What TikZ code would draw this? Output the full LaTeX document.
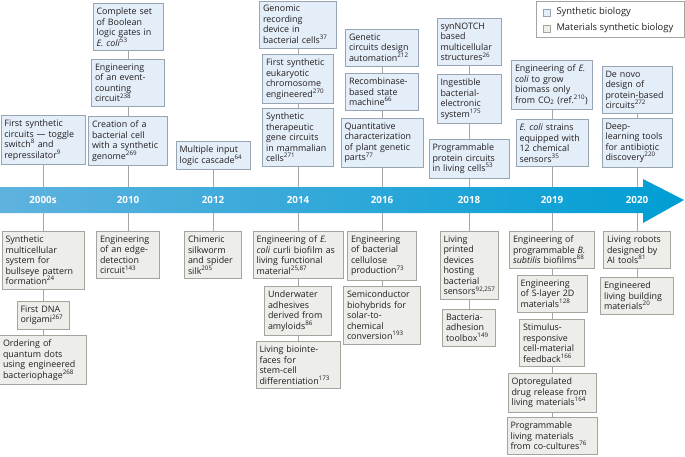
\documentclass[tikz,border=0pt]{standalone}
\usepackage{fontspec}
\setmainfont{Open Sans}
\usepackage{tikz}
\usetikzlibrary{positioning, backgrounds}
\definecolor{synfill}{RGB}{228, 238, 249}
\definecolor{synline}{RGB}{150, 164, 180}
\definecolor{matfill}{RGB}{237, 237, 233}
\definecolor{matline}{RGB}{165, 165, 160}
\definecolor{linkgray}{RGB}{165, 165, 165}
\definecolor{bandleft}{RGB}{95, 178, 222}
\definecolor{bandright}{RGB}{0, 158, 212}
\definecolor{inkgray}{RGB}{35, 31, 32}
\newcommand{\boxfont}{\fontsize{8.9}{10.5}\selectfont}
\newcommand{\refsup}[1]{\textsuperscript{#1}}

\begin{document}
\begin{tikzpicture}[
  x=1pt, y=-1pt,
  synbox/.style={draw=synline, fill=synfill, line width=0.8pt, inner xsep=3.5pt, inner ysep=4.5pt, anchor=north, align=left, font=\boxfont, text=inkgray, text width=#1},
  matbox/.style={draw=matline, fill=matfill, line width=0.8pt, inner xsep=3.5pt, inner ysep=4.5pt, anchor=north, align=left, font=\boxfont, text=inkgray, text width=#1},
  year/.style={text=white, font=\fontsize{9.8}{11}\selectfont\bfseries, inner sep=1pt},
  link/.style={draw=linkgray, line width=1pt},
  legsq/.style={minimum size=7pt, inner sep=0pt, line width=0.6pt}
]
  \useasboundingbox (0,0) rectangle (685,456);

  % Years on the band
  \node[year] (y00) at (43, 200) {2000s};
  \node[year] (y10) at (128, 200) {2010};
  \node[year] (y12) at (213, 200) {2012};
  \node[year] (y14) at (298, 200) {2014};
  \node[year] (y16) at (382, 200) {2016};
  \node[year] (y18) at (469, 200) {2018};
  \node[year] (y19) at (552, 200) {2019};
  \node[year] (y20) at (637, 200) {2020};

  % Synthetic biology (above)
  \node[synbox=77pt] (s00a) at (43, 115) {First synthetic\\circuits — toggle\\switch\refsup{8} and\\repressilator\refsup{9}};
  \node[synbox=63pt] (s10a) at (128, 3) {Complete set\\of Boolean\\logic gates in\\\textit{E. coli}\refsup{53}};
  \node[synbox=66pt] (s10b) at (128, 59) {Engineering\\of an event-\\counting\\circuit\refsup{238}};
  \node[synbox=72pt] (s10c) at (128, 116) {Creation of a\\bacterial cell\\with a synthetic\\genome\refsup{269}};
  \node[synbox=67pt] (s12a) at (213, 141) {Multiple input\\logic cascade\refsup{64}};
  \node[synbox=70pt] (s14a) at (298, 0.5) {Genomic\\recording\\device in\\bacterial cells\refsup{37}};
  \node[synbox=64pt] (s14b) at (298, 54) {First synthetic\\eukaryotic\\chromosome\\engineered\refsup{270}};
  \node[synbox=64pt] (s14c) at (298, 108) {Synthetic\\therapeutic\\gene circuits\\in mammalian\\cells\refsup{271}};
  \node[synbox=66pt] (s16a) at (382, 29) {Genetic\\circuits design\\automation\refsup{212}};
  \node[synbox=66pt] (s16b) at (382, 73) {Recombinase-\\based state\\machine\refsup{66}};
  \node[synbox=75pt] (s16c) at (382, 118) {Quantitative\\characterization\\of plant genetic\\parts\refsup{77}};
  \node[synbox=57pt] (s18a) at (469, 18) {synNOTCH\\based\\multicellular\\structures\refsup{26}};
  \node[synbox=57pt] (s18b) at (469, 74) {Ingestible\\bacterial-\\electronic\\system\refsup{175}};
  \node[synbox=73pt] (s18c) at (469, 139) {Programmable\\protein circuits\\in living cells\refsup{53}};
  \node[synbox=74pt] (s19a) at (552, 60) {Engineering of \textit{E.}\\\textit{coli} to grow\\biomass only\\from CO\textsubscript{2} (ref.\refsup{210})};
  \node[synbox=65pt] (s19b) at (552, 119) {\textit{E. coli} strains\\equipped with\\12 chemical\\sensors\refsup{35}};
  \node[synbox=63pt] (s20a) at (637, 66) {De novo\\design of\\protein-based\\circuits\refsup{272}};
  \node[synbox=63pt] (s20b) at (637, 118) {Deep-\\learning tools\\for antibiotic\\discovery\refsup{220}};

  % Materials synthetic biology (below)
  \node[matbox=75pt] (m00a) at (43, 231) {Synthetic\\multicellular\\system for\\bullseye pattern\\formation\refsup{24}};
  \node[matbox=45pt] (m00b) at (43, 301) {First DNA\\origami\refsup{267}};
  \node[matbox=80pt] (m00c) at (43, 335) {Ordering of\\quantum dots\\using engineered\\bacteriophage\refsup{268}};
  \node[matbox=56pt] (m10a) at (128, 231) {Engineering\\of an edge-\\detection\\circuit\refsup{143}};
  \node[matbox=50pt] (m12a) at (213, 231) {Chimeric\\silkworm\\and spider\\silk\refsup{205}};
  \node[matbox=83pt] (m14a) at (298, 231) {Engineering of \textit{E.}\\\textit{coli} curli biofilm as\\living functional\\material\refsup{25,87}};
  \node[matbox=60pt] (m14b) at (298, 286) {Underwater\\adhesives\\derived from\\amyloids\refsup{86}};
  \node[matbox=77pt] (m14c) at (298, 341) {Living biointe-\\faces for\\stem-cell\\differentiation\refsup{173}};
  \node[matbox=62pt] (m16a) at (382, 231) {Engineering\\of bacterial\\cellulose\\production\refsup{73}};
  \node[matbox=70pt] (m16b) at (382, 286) {Semiconductor\\biohybrids for\\solar-to-\\chemical\\conversion\refsup{193}};
  \node[matbox=51pt] (m18a) at (469, 231) {Living\\printed\\devices\\hosting\\bacterial\\sensors\refsup{92,257}};
  \node[matbox=46pt] (m18b) at (469, 309) {Bacteria-\\adhesion\\toolbox\refsup{149}};
  \node[matbox=78pt] (m19a) at (552, 231) {Engineering of\\programmable \textit{B.}\\\textit{subtilis} biofilms\refsup{88}};
  \node[matbox=63pt] (m19b) at (552, 275) {Engineering\\of S-layer 2D\\materials\refsup{128}};
  \node[matbox=58pt] (m19c) at (552, 319) {Stimulus-\\responsive\\cell-material\\feedback\refsup{166}};
  \node[matbox=81pt] (m19d) at (552, 373) {Optoregulated\\drug release from\\living materials\refsup{164}};
  \node[matbox=83pt] (m19e) at (552, 417) {Programmable\\living materials\\from co-cultures\refsup{76}};
  \node[matbox=60pt] (m20a) at (637, 231) {Living robots\\designed by\\AI tools\refsup{81}};
  \node[matbox=66pt] (m20b) at (637, 277) {Engineered\\living building\\materials\refsup{20}};

  % Legend
  \node[draw=matline, line width=0.6pt, fill=white, minimum width=148pt, minimum height=36pt, anchor=north] (legend) at (610, 0.5) {};
  \node[legsq, draw=synline, fill=synfill] (legsyn) at (546.5, 12.5) {};
  \node[legsq, draw=matline, fill=matfill] (legmat) at (546.5, 28.5) {};
  \node[right=6pt of legsyn, font=\fontsize{9.4}{10}\selectfont, text=inkgray, inner sep=0pt] {Synthetic biology};
  \node[right=6pt of legmat, font=\fontsize{9.4}{10}\selectfont, text=inkgray, inner sep=0pt] {Materials synthetic biology};

  \begin{pgfonlayer}{background}
    % Connectors
    \draw[link] (s00a) -- (y00) -- (m00a) -- (m00b) -- (m00c);
    \draw[link] (s10a) -- (s10b) -- (s10c) -- (y10) -- (m10a);
    \draw[link] (s12a) -- (y12) -- (m12a);
    \draw[link] (s14a) -- (s14b) -- (s14c) -- (y14) -- (m14a) -- (m14b) -- (m14c);
    \draw[link] (s16a) -- (s16b) -- (s16c) -- (y16) -- (m16a) -- (m16b);
    \draw[link] (s18a) -- (s18b) -- (s18c) -- (y18) -- (m18a) -- (m18b);
    \draw[link] (s19a) -- (s19b) -- (y19) -- (m19a) -- (m19b) -- (m19c) -- (m19d) -- (m19e);
    \draw[link] (s20a) -- (s20b) -- (y20) -- (m20a) -- (m20b);

    % Time band
    \shade[left color=bandleft, right color=bandright] (0, 187) -- (643, 187) -- (643, 179) -- (684, 200) -- (643, 223) -- (643, 213) -- (0, 213) -- cycle;
  \end{pgfonlayer}
\end{tikzpicture}
\end{document}
